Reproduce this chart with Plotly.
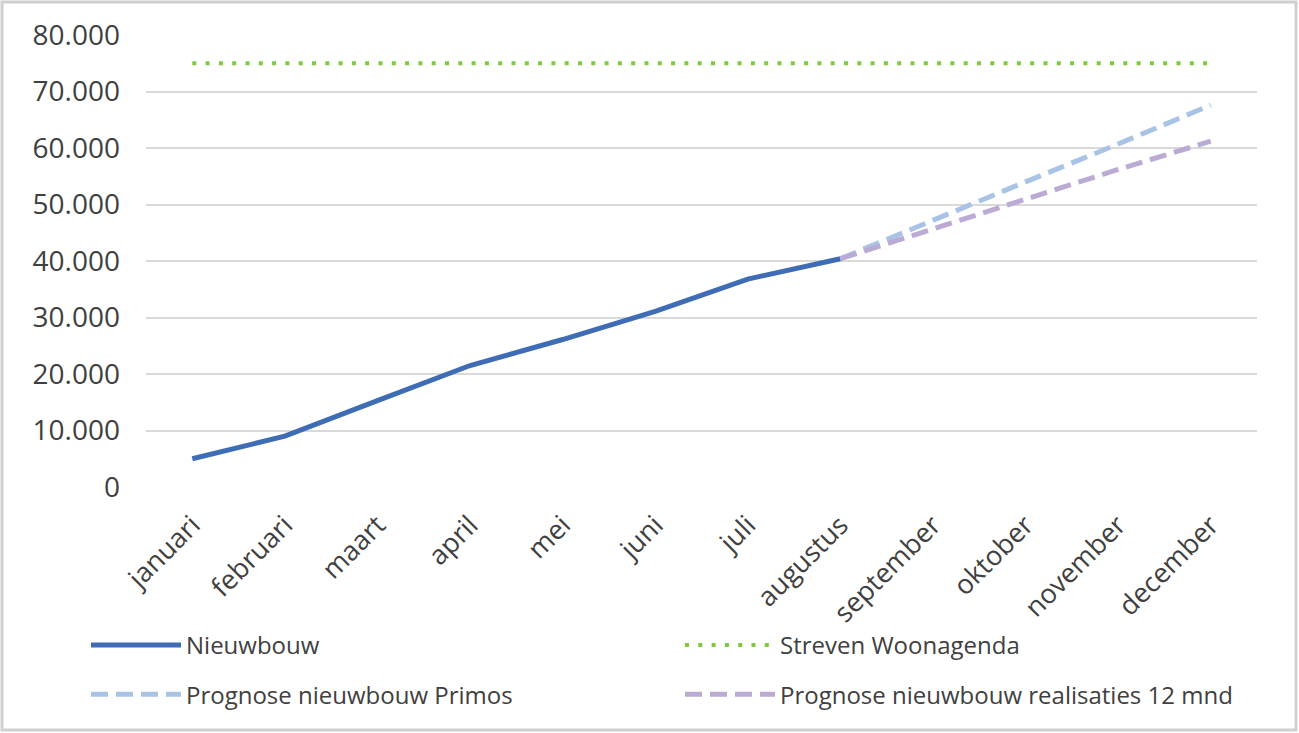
import plotly.graph_objects as go

months = ["januari", "februari", "maart", "april", "mei", "juni", "juli",
          "augustus", "september", "oktober", "november", "december"]
nieuwbouw = [5000, 9000, 15300, 21500, 26100, 31100, 36800, 40400,
             None, None, None, None]
streven = [75000] * 12
prognose_primos = [None] * 7 + [40400, 47300, 54000, 60700, 67600]
prognose_12mnd = [None] * 7 + [40400, 45700, 50900, 56200, 61200]
y_ticks = [0, 10000, 20000, 30000, 40000, 50000, 60000, 70000, 80000]
y_labels = ["0", "10.000", "20.000", "30.000", "40.000", "50.000",
            "60.000", "70.000", "80.000"]

FONT = "Open Sans"
fig = go.Figure()
fig.add_trace(go.Scatter(x=months, y=nieuwbouw, mode="lines", name="Nieuwbouw",
                         legend="legend", legendgroup="a",
                         line=dict(color="#3F6DB5", width=5)))
fig.add_trace(go.Scatter(x=months, y=streven, mode="lines", name="Streven Woonagenda",
                         legend="legend2", legendgroup="b",
                         line=dict(color="#7DCB3C", width=4, dash="4px,9.3px")))
fig.add_trace(go.Scatter(x=months, y=prognose_primos, mode="lines",
                         name="Prognose nieuwbouw Primos",
                         legend="legend", legendgroup="c",
                         line=dict(color="#A8C3E6", width=5, dash="17px,8px")))
fig.add_trace(go.Scatter(x=months, y=prognose_12mnd, mode="lines",
                         name="Prognose nieuwbouw realisaties 12 mnd",
                         legend="legend2", legendgroup="d",
                         line=dict(color="#BBAAD4", width=5, dash="17px,8px")))

W, H = 1299, 733
L, R, T, B = 146, 42, 35, 246
pw, ph = W - L - R, H - T - B

def px(x):
    return (x - L) / pw

def py(y):
    return (H - B - y) / ph

fig.add_shape(type="rect", xref="paper", yref="paper",
              x0=px(2), x1=px(1296), y0=py(730), y1=py(2),
              line=dict(color="#D0D0D0", width=3), layer="below")

legend_common = dict(orientation="v", yanchor="top", xanchor="left",
                     itemwidth=90, tracegroupgap=15, bgcolor="rgba(0,0,0,0)",
                     font=dict(size=24, color="#404040", family=FONT))

fig.update_layout(
    width=W, height=H,
    margin=dict(l=L, r=R, t=T, b=B, pad=0, autoexpand=False),
    paper_bgcolor="white", plot_bgcolor="white",
    font=dict(family=FONT, color="#595959"),
    xaxis=dict(type="category", range=[-0.5, 11.5], showgrid=False,
               showline=False, ticks="", tickangle=-45, ticklabelstandoff=16,
               tickfont=dict(size=27, color="#404040", family=FONT)),
    yaxis=dict(range=[0, 80000], tickvals=y_ticks, ticktext=y_labels,
               showgrid=True, gridcolor="#D9D9D9", gridwidth=1.5,
               zeroline=False, showline=False, ticks="", ticklabelstandoff=25,
               tickfont=dict(size=28, color="#404040", family=FONT)),
    legend=dict(x=px(86), y=py(623), **legend_common),
    legend2=dict(x=px(680), y=py(623), **legend_common),
    showlegend=True,
)

fig.write_html(
    "out.html",
    config={"displayModeBar": False},
    post_script="document.body.style.margin='0';document.body.style.overflow='hidden';",
)
